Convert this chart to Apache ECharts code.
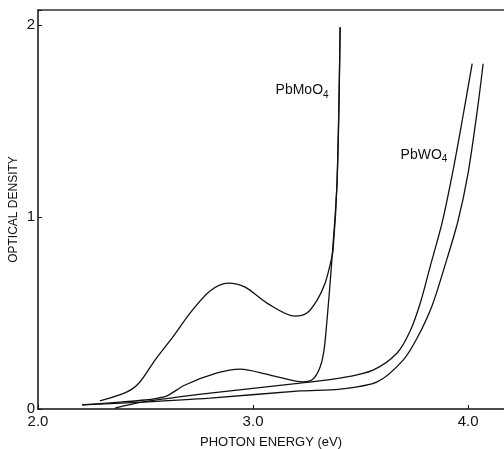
<!DOCTYPE html>
<html>
<head>
<meta charset="utf-8">
<script src="https://cdn.jsdelivr.net/npm/echarts@6/dist/echarts.min.js"></script>
<style>
  html, body { margin: 0; padding: 0; background: #fff; }
  #chart { width: 504px; height: 449px; }
</style>
</head>
<body>
<div id="chart"></div>
<script>
// PbMoO4, broad band curve
const moBroad = [
  [2.288, 0.042], [2.414, 0.089], [2.474, 0.141], [2.544, 0.255], [2.63, 0.38],
  [2.707, 0.50], [2.80, 0.615], [2.884, 0.656], [2.963, 0.635], [3.065, 0.552],
  [3.195, 0.484], [3.25, 0.50], [3.298, 0.568], [3.335, 0.656], [3.358, 0.75],
  [3.372, 0.828], [3.391, 1.193], [3.405, 1.99]
];
// PbMoO4, weak band curve
const moWeak = [
  [2.205, 0.021], [2.381, 0.036], [2.498, 0.047], [2.558, 0.057], [2.60, 0.068],
  [2.684, 0.125], [2.833, 0.188], [2.94, 0.208], [3.079, 0.177], [3.233, 0.141],
  [3.279, 0.156], [3.312, 0.219], [3.33, 0.307], [3.344, 0.464], [3.363, 0.724],
  [3.391, 1.193], [3.405, 1.99]
];
// PbWO4, two curves
const wUpper = [
  [2.358, 0.005], [2.484, 0.036], [2.80, 0.083], [3.219, 0.135], [3.405, 0.161],
  [3.558, 0.203], [3.67, 0.292], [3.73, 0.405], [3.777, 0.55], [3.823, 0.74],
  [3.879, 0.97], [3.926, 1.22], [3.972, 1.50], [4.019, 1.80]
];
const wLower = [
  [2.205, 0.021], [2.484, 0.036], [2.80, 0.057], [3.219, 0.094], [3.405, 0.104],
  [3.577, 0.141], [3.698, 0.255], [3.763, 0.37], [3.833, 0.54], [3.893, 0.75],
  [3.953, 0.98], [4.0, 1.23], [4.042, 1.55], [4.07, 1.80]
];
const xTicks = [2, 3, 4];
const yTicks = [0, 1, 2];

const xMin = 2, xMax = 4.167, yMin = 0, yMax = 2.08;
const font = '"Liberation Sans", Arial, sans-serif';

function curve(data, extra) {
  return Object.assign({
    type: 'line',
    data: data,
    showSymbol: false,
    smooth: 0.3,
    lineStyle: { color: '#111', width: 1.3 },
    silent: true
  }, extra || {});
}

function tag(x, y, main) {
  return {
    symbol: 'rect',
    symbolSize: 1,
    itemStyle: { color: 'rgba(0,0,0,0)' },
    data: [{
      coord: [x, y],
      label: {
        show: true,
        position: 'inside',
        formatter: '{m|' + main + '}{s|4}',
        rich: {
          m: { fontFamily: font, fontSize: 14, color: '#111' },
          s: { fontFamily: font, fontSize: 10, color: '#111', padding: [9, 0, 0, 0] }
        }
      }
    }]
  };
}

const chart = echarts.init(document.getElementById('chart'));
chart.setOption({
  animation: false,
  backgroundColor: '#fff',
  grid: { left: 38, right: 0, top: 10, bottom: 40, outerBoundsMode: 'none', containLabel: false },
  xAxis: [{
    type: 'value', min: xMin, max: xMax, interval: 1,
    name: 'PHOTON ENERGY (eV)', nameLocation: 'middle', nameGap: 27,
    nameMoveOverlap: false,
    nameTextStyle: { fontFamily: font, fontSize: 13, color: '#111' },
    axisLine: { lineStyle: { color: '#111', width: 1.5 } },
    axisTick: { inside: true, length: 4, lineStyle: { color: '#111' } },
    axisLabel: {
      fontFamily: font, fontSize: 15, color: '#111', margin: 5,
      formatter: v => xTicks.includes(v) ? v.toFixed(1) : ''
    },
    splitLine: { show: false }
  }, {
    type: 'value', min: xMin, max: xMax, position: 'top',
    axisLine: { lineStyle: { color: '#333', width: 1.5 } },
    axisTick: { show: false }, axisLabel: { show: false }, splitLine: { show: false }
  }],
  yAxis: {
    type: 'value', min: yMin, max: yMax, interval: 1,
    name: 'OPTICAL DENSITY', nameLocation: 'middle', nameGap: 18,
    nameMoveOverlap: false,
    nameTextStyle: { fontFamily: font, fontSize: 12, color: '#111' },
    axisLine: { show: true, lineStyle: { color: '#111', width: 1.5 } },
    axisTick: { inside: true, length: 4, lineStyle: { color: '#111' } },
    axisLabel: {
      fontFamily: font, fontSize: 15, color: '#111', margin: 3,
      formatter: v => yTicks.includes(v) ? String(v) : ''
    },
    splitLine: { show: false }
  },
  series: [
    curve(moBroad, { markPoint: tag(3.228, 1.661, 'PbMoO') }),
    curve(moWeak),
    curve(wUpper, { markPoint: tag(3.795, 1.323, 'PbWO') }),
    curve(wLower)
  ]
});
</script>
</body>
</html>
